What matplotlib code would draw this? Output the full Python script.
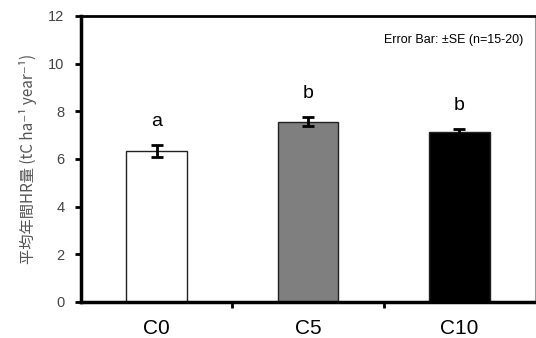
import numpy as np
import matplotlib.pyplot as plt

categories = ['C0', 'C5', 'C10']
hr_mean = [6.32, 7.56, 7.12]
hr_se = [0.25, 0.18, 0.13]
letters = ['a', 'b', 'b']
colors = ['white', '#7f7f7f', 'black']

plt.rcParams['font.family'] = ['Liberation Sans', 'DejaVu Sans']

fig = plt.figure(figsize=(5.36, 3.38), dpi=100)
ax = fig.add_axes([0.151, 0.107, 0.847, 0.846])

x = np.arange(len(categories))
ax.bar(x, hr_mean, width=0.4, color=colors, edgecolor='#222222', linewidth=1.0, zorder=2)
ax.errorbar(x, hr_mean, yerr=hr_se, fmt='none', ecolor='black', elinewidth=2,
            capsize=4, capthick=2, zorder=3)

for xi, m, s, lab in zip(x, hr_mean, hr_se, letters):
    ax.annotate(lab, (xi, m + s), xytext=(0, 11), textcoords='offset points',
                ha='center', va='bottom', fontsize=14)

ax.set_xlim(-0.5, 2.5)
ax.set_ylim(0, 12)
ax.set_yticks(range(0, 13, 2))
ax.set_xticks(x)
ax.set_xticklabels(categories, fontsize=15)
ax.set_xticks([0.5, 1.5], minor=True)
ax.tick_params(axis='x', which='major', length=0, pad=12)
ax.tick_params(axis='x', which='minor', length=4, width=2, direction='out')
ax.tick_params(axis='y', length=4, width=2, direction='out', labelsize=10.5,
               labelcolor='#444444', pad=8)

for side in ['left', 'bottom']:
    ax.spines[side].set_linewidth(2.5)
ax.spines['top'].set_linewidth(2)
ax.spines['right'].set_linewidth(0.8)
ax.spines['right'].set_color('#999999')

ax.set_ylabel('平均年間HR量 (tC ha⁻¹ year⁻¹)', fontsize=11, color='#555555',
              labelpad=8, family=['Noto Sans CJK JP', 'DejaVu Sans'])
ax.text(0.975, 0.915, 'Error Bar: ±SE (n=15-20)', transform=ax.transAxes,
        ha='right', va='center', fontsize=9)

fig.savefig('out.png', dpi=100)
